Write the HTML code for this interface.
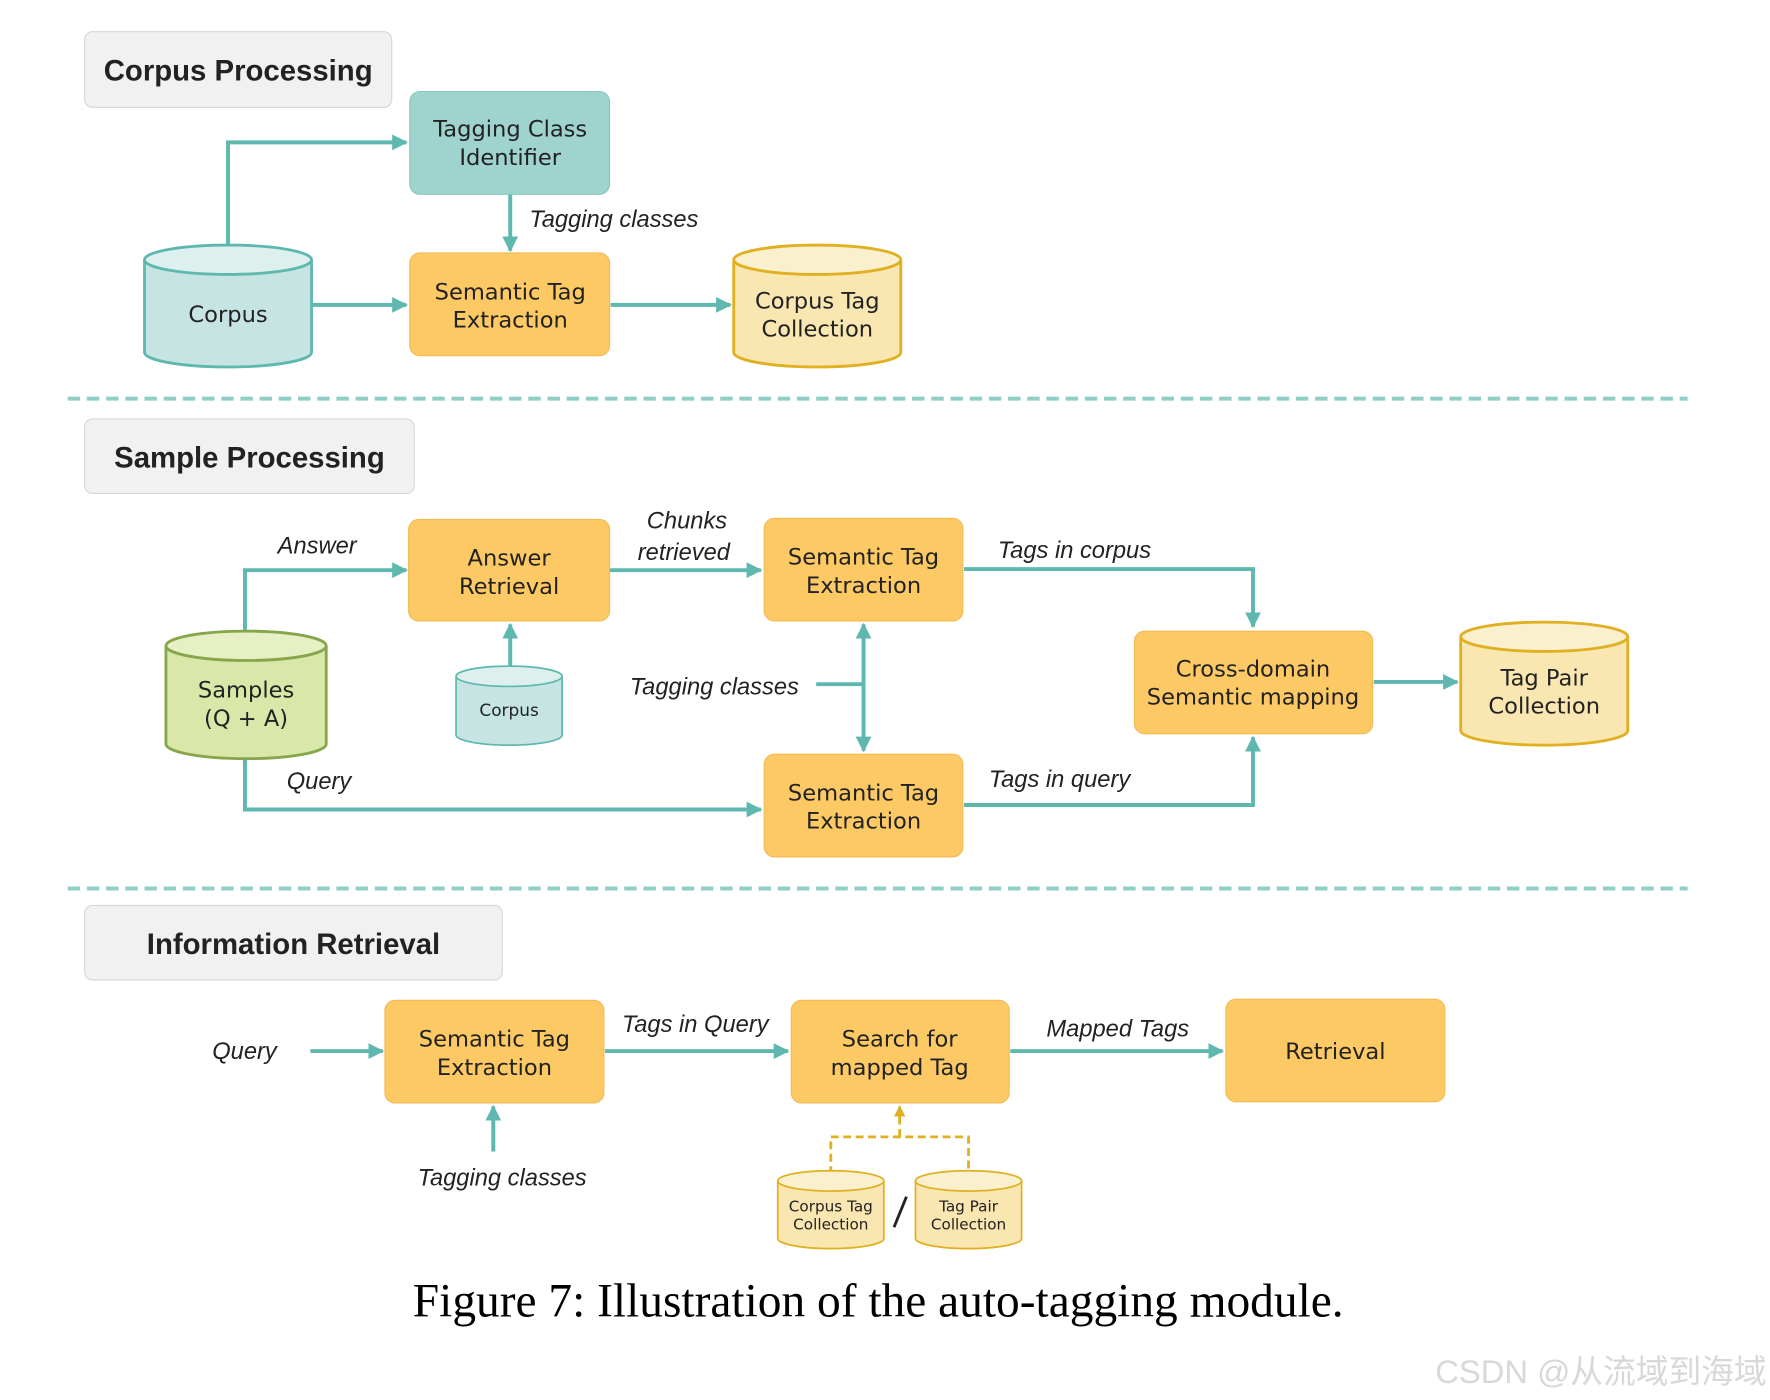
<!DOCTYPE html>
<html><head><meta charset="utf-8"><style>
html,body{margin:0;padding:0;background:#fff;width:1770px;height:1400px;overflow:hidden}
svg{display:block}
text{font-family:"DejaVu Sans","Liberation Sans",sans-serif;fill:#222}
.b{font-size:20px;text-anchor:middle}
.i{font-size:21px;font-style:italic;font-family:"Liberation Sans",sans-serif}
.h{font-size:26px;font-weight:bold;font-family:"Liberation Sans",sans-serif}
.s{font-size:13.5px;text-anchor:middle}
</style></head><body>
<svg width="1770" height="1400" viewBox="0 0 1568 1240" xmlns="http://www.w3.org/2000/svg">
<defs>
<marker id="a" viewBox="0 0 10 10" refX="9" refY="5" markerWidth="4" markerHeight="4" orient="auto"><path d="M0,0L10,5L0,10z" fill="#5fb8b0"/></marker>
<marker id="y" viewBox="0 0 10 10" refX="9" refY="5" markerWidth="4" markerHeight="4" orient="auto"><path d="M0,0L10,5L0,10z" fill="#e0b020"/></marker>
</defs>
<rect width="1568" height="1240" fill="#fff"/>
<rect x="75" y="28" width="272" height="67" rx="7" fill="#f1f1f1" stroke="#d6d6d6"/>
<text class="h" x="211" y="71" text-anchor="middle">Corpus Processing</text>
<rect x="75" y="371" width="292" height="66" rx="7" fill="#f1f1f1" stroke="#d6d6d6"/>
<text class="h" x="221" y="414" text-anchor="middle">Sample Processing</text>
<rect x="75" y="802" width="370" height="66" rx="7" fill="#f1f1f1" stroke="#d6d6d6"/>
<text class="h" x="260" y="845" text-anchor="middle">Information Retrieval</text>
<line x1="60" y1="353" x2="1495" y2="353" stroke="#8fcfc8" stroke-width="3.5" stroke-dasharray="11,6"/>
<line x1="60" y1="787" x2="1495" y2="787" stroke="#8fcfc8" stroke-width="3.5" stroke-dasharray="11,6"/>
<g stroke="#5fb8b0" stroke-width="3.5" fill="none">
<path d="M202,216V126H360" marker-end="url(#a)"/>
<path d="M452,172V222" marker-end="url(#a)"/>
<path d="M276,270H360" marker-end="url(#a)"/>
<path d="M541,270H647" marker-end="url(#a)"/>
<path d="M217,560V505H360" marker-end="url(#a)"/>
<path d="M452,592V553" marker-end="url(#a)"/>
<path d="M540,505H674" marker-end="url(#a)"/>
<path d="M854,504H1110V555" marker-end="url(#a)"/>
<path d="M765,606V553" marker-end="url(#a)"/>
<path d="M765,606V665" marker-end="url(#a)"/>
<path d="M723,606H765"/>
<path d="M217,673V717H674" marker-end="url(#a)"/>
<path d="M854,713H1110V653" marker-end="url(#a)"/>
<path d="M1217,604H1291" marker-end="url(#a)"/>
<path d="M275,931H339" marker-end="url(#a)"/>
<path d="M437,1020V980" marker-end="url(#a)"/>
<path d="M536,931H698" marker-end="url(#a)"/>
<path d="M895,931H1083" marker-end="url(#a)"/>
</g>
<path d="M736,1040V1007H858V1040M797,1007V980" stroke="#e0b020" stroke-width="2.5" fill="none" stroke-dasharray="7,4" marker-end="url(#y)"/>
<rect x="363" y="81" width="177" height="91" rx="9" fill="#9fd3cd" stroke="#8cc8c1"/>
<text class="b" x="452" y="121">Tagging Class</text><text class="b" x="452" y="146">Identifier</text>
<g fill="#fdc964" stroke="#f0bb55">
<rect x="363" y="224" width="177" height="91" rx="9"/>
<rect x="362" y="460" width="178" height="90" rx="9"/>
<rect x="677" y="459" width="176" height="91" rx="9"/>
<rect x="677" y="668" width="176" height="91" rx="9"/>
<rect x="1005" y="559" width="211" height="91" rx="9"/>
<rect x="341" y="886" width="194" height="91" rx="9"/>
<rect x="701" y="886" width="193" height="91" rx="9"/>
<rect x="1086" y="885" width="194" height="91" rx="9"/>
</g>
<text class="b" x="452" y="265">Semantic Tag</text><text class="b" x="452" y="290">Extraction</text>
<text class="b" x="451" y="501">Answer</text><text class="b" x="451" y="526">Retrieval</text>
<text class="b" x="765" y="500">Semantic Tag</text><text class="b" x="765" y="525">Extraction</text>
<text class="b" x="765" y="709">Semantic Tag</text><text class="b" x="765" y="734">Extraction</text>
<text class="b" x="1110" y="599">Cross-domain</text><text class="b" x="1110" y="624">Semantic mapping</text>
<text class="b" x="438" y="927">Semantic Tag</text><text class="b" x="438" y="952">Extraction</text>
<text class="b" x="797" y="927">Search for</text><text class="b" x="797" y="952">mapped Tag</text>
<text class="b" x="1183" y="938">Retrieval</text>
<g stroke-width="2.5">
<path d="M128,230V312A74,13 0 0 0 276,312V230" fill="#c6e5e2" stroke="#5fb8b0"/><ellipse cx="202" cy="230" rx="74" ry="13" fill="#ddf0ee" stroke="#5fb8b0"/>
<path d="M650,230V312A74,13 0 0 0 798,312V230" fill="#f9e6b0" stroke="#e0b020"/><ellipse cx="724" cy="230" rx="74" ry="13" fill="#fbf0cd" stroke="#e0b020"/>
<path d="M147,572V659A71,13 0 0 0 289,659V572" fill="#d9e8a9" stroke="#85a64a"/><ellipse cx="218" cy="572" rx="71" ry="13" fill="#e6f0c4" stroke="#85a64a"/>
<path d="M404,599V651A47,9 0 0 0 498,651V599" fill="#c6e5e2" stroke="#5fb8b0" stroke-width="1.5"/><ellipse cx="451" cy="599" rx="47" ry="9" fill="#ddf0ee" stroke="#5fb8b0" stroke-width="1.5"/>
<path d="M1294,564V647A74,13 0 0 0 1442,647V564" fill="#f9e6b0" stroke="#e0b020"/><ellipse cx="1368" cy="564" rx="74" ry="13" fill="#fbf0cd" stroke="#e0b020"/>
<path d="M689,1046V1097A47,9 0 0 0 783,1097V1046" fill="#f9e6b0" stroke="#e0b020" stroke-width="1.5"/><ellipse cx="736" cy="1046" rx="47" ry="9" fill="#fbf0cd" stroke="#e0b020" stroke-width="1.5"/>
<path d="M811,1046V1097A47,9 0 0 0 905,1097V1046" fill="#f9e6b0" stroke="#e0b020" stroke-width="1.5"/><ellipse cx="858" cy="1046" rx="47" ry="9" fill="#fbf0cd" stroke="#e0b020" stroke-width="1.5"/>
</g>
<text class="b" x="202" y="285">Corpus</text>
<text class="b" x="724" y="273">Corpus Tag</text><text class="b" x="724" y="298">Collection</text>
<text class="b" x="218" y="618">Samples</text><text class="b" x="218" y="643">(Q + A)</text>
<text class="s" x="451" y="634" style="font-size:15px">Corpus</text>
<text class="b" x="1368" y="607">Tag Pair</text><text class="b" x="1368" y="632">Collection</text>
<text class="s" x="736" y="1073">Corpus Tag</text><text class="s" x="736" y="1089">Collection</text>
<text class="s" x="858" y="1073">Tag Pair</text><text class="s" x="858" y="1089">Collection</text>
<line x1="792" y1="1087" x2="803" y2="1060" stroke="#222" stroke-width="2.5"/>
<text class="i" x="469" y="201">Tagging classes</text>
<text class="i" x="246" y="490">Answer</text>
<text class="i" x="573" y="468">Chunks</text><text class="i" x="565" y="496">retrieved</text>
<text class="i" x="884" y="494">Tags in corpus</text>
<text class="i" x="558" y="615">Tagging classes</text>
<text class="i" x="254" y="699">Query</text>
<text class="i" x="876" y="697">Tags in query</text>
<text class="i" x="188" y="938">Query</text>
<text class="i" x="551" y="914">Tags in Query</text>
<text class="i" x="927" y="918">Mapped Tags</text>
<text class="i" x="370" y="1050">Tagging classes</text>
<text x="778" y="1166" text-anchor="middle" style="font-family:'Liberation Serif',serif;font-size:42px;fill:#000">Figure 7: Illustration of the auto-tagging module.</text>
<text x="1565" y="1225" text-anchor="end" style="font-family:'Liberation Sans','Noto Sans CJK SC',sans-serif;font-size:29px;fill:#d8d8d8">CSDN @从流域到海域</text>
</svg>
</body></html>
